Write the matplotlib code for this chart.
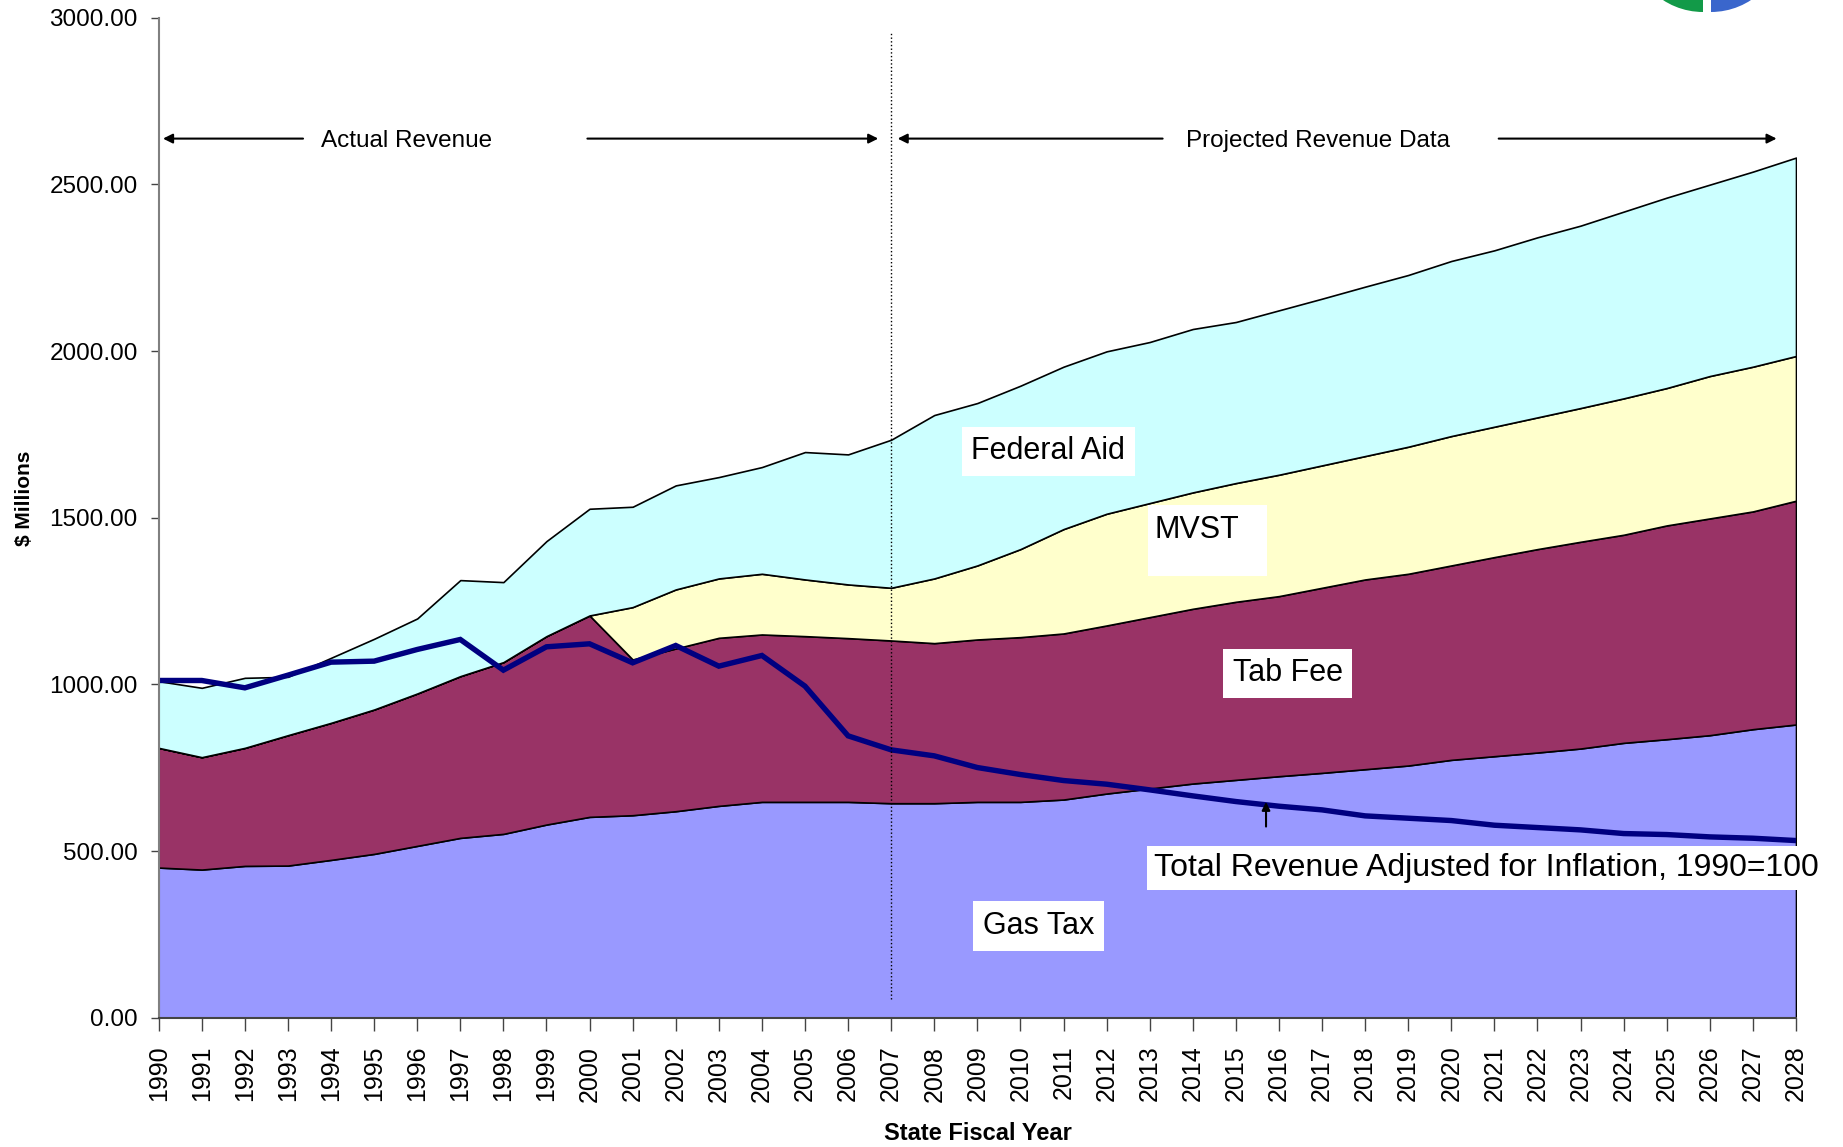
import numpy as np
import matplotlib
matplotlib.use('Agg')
import matplotlib.pyplot as plt
from matplotlib.patches import Wedge, Rectangle

plt.rcParams['font.family'] = ['Liberation Sans', 'DejaVu Sans']

# data ($ millions)
years = list(range(1990, 2029))
gas_tax = [451, 445, 456, 457, 474, 492, 516, 540, 552, 580,
           603, 608, 620, 636, 648, 648, 648, 644, 644, 648,
           648, 655, 673, 688, 703, 714, 725, 735, 746, 757,
           774, 785, 796, 808, 825, 836, 848, 866, 880]
tab_fee = [359, 337, 354, 391, 411, 433, 457, 485, 515, 565,
           604, 467, 488, 504, 502, 497, 491, 488, 480, 487,
           494, 498, 504, 514, 524, 534, 540, 555, 569, 575,
           583, 597, 610, 620, 624, 641, 650, 653, 671]
mvst = [0, 0, 0, 0, 0, 0, 0, 0, 0, 0,
        0, 157, 177, 178, 182, 170, 161, 158, 194, 222,
        264, 313, 335, 342, 349, 356, 364, 367, 370, 381,
        388, 391, 395, 401, 409, 412, 427, 434, 434]
federal_aid = [200, 208, 210, 175, 195, 212, 225, 288, 240, 285,
               320, 301, 312, 304, 320, 382, 390, 444, 490, 487,
               490, 487, 487, 483, 490, 483, 493, 500, 508, 515,
               525, 529, 540, 547, 560, 571, 574, 585, 595]
adjusted_total = [1012, 1012, 990, 1028, 1067, 1070, 1105, 1135, 1043, 1113,
                  1122, 1065, 1117, 1055, 1087, 995, 846, 804, 786, 751,
                  730, 712, 701, 684, 666, 649, 635, 624, 606, 599,
                  592, 578, 571, 564, 553, 550, 543, 539, 532]

colors = ['#9999FF', '#993366', '#FFFFCC', '#CCFFFF']

fig = plt.figure(figsize=(18.43, 11.47), dpi=100)
ax = fig.add_axes([0.0861, 0.1125, 0.8884, 0.8722])

ax.stackplot(years, gas_tax, tab_fee, mvst, federal_aid, colors=colors,
             edgecolor='black', linewidth=1.2)
ax.plot(years, adjusted_total, color='#000080', linewidth=3.9, solid_joinstyle='miter')

# split between actual and projected
ax.axvline(2007, ymin=0.019, ymax=0.985, color='black', linestyle=':', linewidth=1)

ax.set_xlim(1990, 2028)
ax.set_ylim(0, 3000)
ax.set_yticks(np.arange(0, 3001, 500))
ax.set_yticklabels(['%.2f' % v for v in np.arange(0, 3001, 500)], fontsize=17.5)
ax.set_xticks(years)
ax.set_xticklabels([str(y) for y in years], rotation=90, fontsize=18)
ax.tick_params(axis='y', length=6, width=1, color='#444444', pad=9)
ax.tick_params(axis='x', length=9, width=1, color='#444444', pad=11)
ax.spines['top'].set_visible(False)
ax.spines['right'].set_visible(False)
ax.spines['left'].set_color('#808080')
ax.spines['left'].set_linewidth(1.5)
ax.spines['bottom'].set_color('#444444')
ax.spines['bottom'].set_linewidth(1.5)

fig.text(25 / 1843, 1 - 498 / 1147, '$ Millions', rotation=90, fontsize=15,
         fontweight='bold', ha='center', va='center')
fig.text(978 / 1843, 1 - 1133 / 1147, 'State Fiscal Year', fontsize=17,
         fontweight='bold', ha='center', va='center')

# period arrows
arrow = dict(arrowstyle='-|>', color='black', lw=1.5, mutation_scale=14,
             shrinkA=0, shrinkB=0)
ax.annotate('', xy=(1990.1, 2637), xytext=(1993.35, 2637), arrowprops=arrow)
ax.annotate('', xy=(2006.7, 2637), xytext=(1999.95, 2637), arrowprops=arrow)
ax.annotate('', xy=(2007.15, 2637), xytext=(2013.3, 2637), arrowprops=arrow)
ax.annotate('', xy=(2027.55, 2637), xytext=(2021.1, 2637), arrowprops=arrow)
ax.text(1995.75, 2630, 'Actual Revenue', fontsize=17.5, ha='center', va='center')
ax.text(2016.9, 2630, 'Projected Revenue Data', fontsize=17.5, ha='center', va='center')

# series labels
box = dict(facecolor='white', edgecolor='none', pad=7)
ax.text(2010.65, 1699, 'Federal Aid', fontsize=22, ha='center', va='center', bbox=box)
ax.add_patch(Rectangle((2012.97, 1325), 2.75, 212, facecolor='white', edgecolor='none'))
ax.text(2013.1, 1462, 'MVST', fontsize=22, ha='left', va='center')
ax.text(2016.2, 1033, 'Tab Fee', fontsize=22, ha='center', va='center', bbox=box)
ax.text(2010.43, 275, 'Gas Tax', fontsize=22, ha='center', va='center', bbox=box)
ax.text(2013.1, 451, 'Total Revenue Adjusted for Inflation, 1990=100', fontsize=23,
        ha='left', va='center', bbox=dict(facecolor='white', edgecolor='none', pad=5))
ax.annotate('', xy=(2015.7, 648), xytext=(2015.7, 574),
            arrowprops=dict(arrowstyle='-|>', color='black', lw=1.5,
                            mutation_scale=12, shrinkA=0, shrinkB=0))

# corner of the logo cut off at the top right
lax = fig.add_axes([1620 / 1843, 1 - 20 / 1147, 180 / 1843, 20 / 1147])
lax.set_xlim(1620, 1800)
lax.set_ylim(20, 0)
lax.axis('off')
lax.add_patch(Wedge((1703, -61), 73, 90, 270, facecolor='#129A48', edgecolor='none'))
lax.add_patch(Wedge((1711, -61), 73, 270, 90, facecolor='#3A66CC', edgecolor='none'))

fig.savefig('out.png', dpi=100)
